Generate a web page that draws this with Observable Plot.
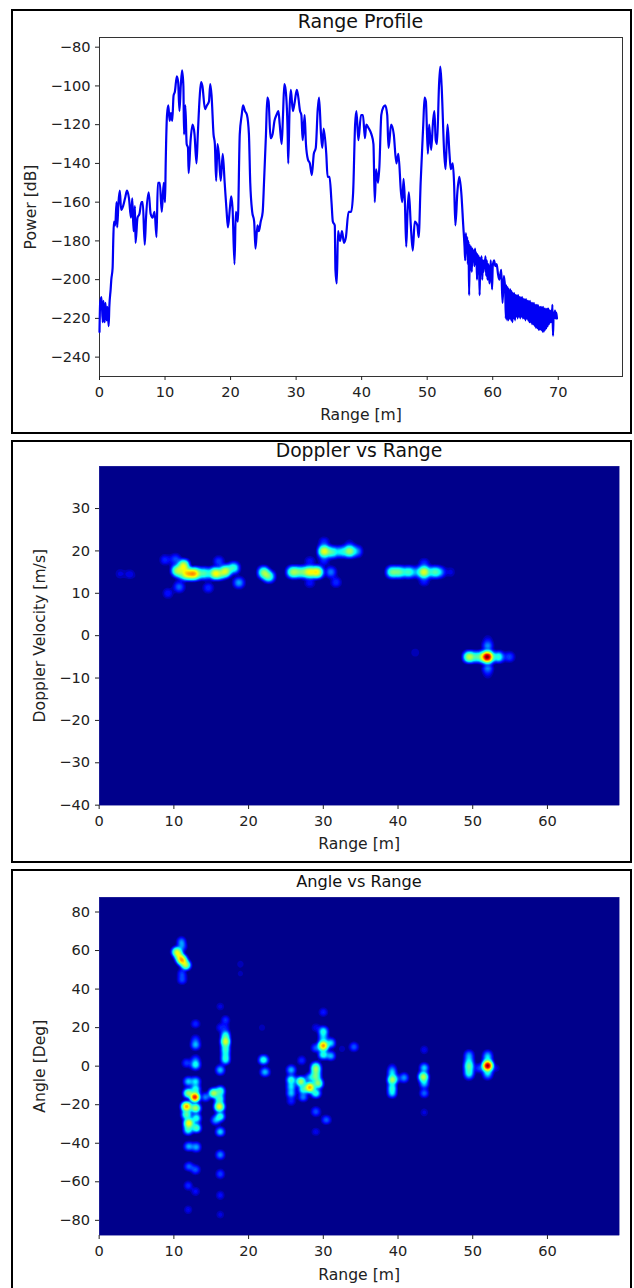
<!DOCTYPE html>
<html><head><meta charset="utf-8">
<script src="https://cdn.jsdelivr.net/npm/d3@7"></script>
<script src="https://cdn.jsdelivr.net/npm/@observablehq/plot@0.6"></script>
<style>
html,body{margin:0;padding:0;background:#fff;width:634px;height:1288px;overflow:hidden}
.panel{position:absolute;left:11px;width:617px;border:2.5px solid #000;box-sizing:content-box}
.chart{position:absolute;left:0}
.title{position:absolute;left:99px;width:523px;text-align:center;font-family:"DejaVu Sans",sans-serif;color:#111}
svg{display:block}
</style></head><body>
<div class="panel" style="top:9px;height:421px"></div>
<div class="panel" style="top:440px;height:419px"></div>
<div class="panel" style="top:869px;height:425px"></div>
<div class="title" style="top:10px;font-size:19px">Range Profile</div>
<div class="title" style="top:440px;width:520px;font-size:18.8px">Doppler vs Range</div>
<div class="title" style="top:872px;width:520px;font-size:16.2px">Angle vs Range</div>
<div class="chart" id="c1" style="top:0"></div>
<div class="chart" id="c2" style="top:440px"></div>
<div class="chart" id="c3" style="top:869px"></div>
<script>
const profileRange=[0,0.1,0.3,0.5,0.6,0.8,0.9,1.1,1.2,1.4,1.5,1.7,1.8,2.0,2.1,2.2,2.4,2.6,2.7,2.9,3.1,3.3,3.6,3.9,4.2,4.5,4.8,5.0,5.2,5.4,5.5,5.8,6.1,6.4,6.6,6.9,7.1,7.5,7.8,8.1,8.4,8.7,8.9,9.2,9.5,9.8,10.0,10.1,10.3,10.5,10.7,10.9,11.1,11.3,11.5,11.8,12.0,12.2,12.4,12.6,12.8,12.9,13.1,13.3,13.5,13.6,13.9,14.2,14.5,14.8,15.0,15.3,15.5,15.7,16.1,16.4,16.7,16.9,17.1,17.4,17.6,17.8,18.0,18.2,18.5,18.8,19.1,19.4,19.6,19.9,20.1,20.3,20.6,20.8,21.1,21.4,21.7,21.9,22.2,22.5,22.8,23.0,23.3,23.6,23.8,24.1,24.3,24.6,24.9,25.1,25.4,25.6,25.8,26.1,26.4,26.7,27.0,27.3,27.5,27.8,28.0,28.2,28.4,28.7,28.8,29.0,29.2,29.5,29.8,30.1,30.3,30.6,30.8,31.0,31.3,31.5,31.8,32.1,32.4,32.7,33.0,33.3,33.5,33.8,34.0,34.2,34.6,34.8,35.1,35.4,35.6,35.9,36.0,36.2,36.4,36.7,37.0,37.3,37.6,38.0,38.4,38.7,39.0,39.2,39.5,39.9,40.2,40.5,40.7,41.1,41.5,41.8,42.0,42.2,42.5,42.7,43.0,43.3,43.6,43.9,44.1,44.5,44.9,45.3,45.6,46.0,46.2,46.4,46.6,46.8,47.0,47.2,47.5,47.8,48.1,48.5,48.7,49.0,49.4,49.6,49.8,50.1,50.3,50.6,50.9,51.1,51.3,51.5,51.8,52.0,52.2,52.6,52.8,53.1,53.4,53.6,53.9,54.1,54.3,54.6,54.9,55.2,55.5,55.7,55.8,55.9,56.0,56.1,56.2,56.3,56.4,56.5,56.6,56.7,56.8,56.9,57.0,57.1,57.2,57.3,57.4,57.5,57.6,57.7,57.8,57.9,58.0,58.1,58.2,58.3,58.4,58.5,58.6,58.7,58.8,58.9,59.0,59.1,59.2,59.3,59.4,59.5,59.7,59.9,60.0,60.2,60.4,60.6,60.8,61.0,61.3,61.5,61.7,61.9,62.0,62.1,62.2,62.3,62.4,62.5,62.6,62.7,62.8,62.9,63.0,63.1,63.2,63.3,63.4,63.5,63.6,63.7,63.8,63.9,64.0,64.1,64.2,64.3,64.4,64.5,64.6,64.7,64.8,64.9,65.0,65.1,65.2,65.3,65.4,65.5,65.6,65.7,65.8,65.9,66.0,66.1,66.2,66.3,66.4,66.5,66.6,66.7,66.8,66.9,67.0,67.1,67.2,67.3,67.4,67.5,67.6,67.7,67.8,67.9,68.0,68.1,68.2,68.3,68.4,68.5,68.6,68.7,68.8,68.9,69.0,69.1,69.2,69.3,69.4,69.5,69.6,69.7,69.8];
const profilePower=[-227,-212,-209,-222,-211,-222,-212,-221,-214,-224,-214,-205,-200,-194,-180,-170,-172,-160,-173,-160,-154,-164,-162,-158,-154,-158,-168,-158,-175,-162,-181,-168,-166,-160,-160,-182,-168,-155,-166,-168,-165,-178,-150,-150,-165,-150,-160,-140,-115,-110,-118,-114,-118,-105,-103,-95,-98,-113,-100,-92,-100,-125,-110,-130,-132,-145,-128,-120,-125,-140,-125,-105,-98,-100,-112,-110,-108,-99,-105,-125,-130,-149,-130,-135,-149,-135,-150,-165,-173,-163,-157,-163,-192,-165,-170,-125,-115,-110,-113,-115,-125,-150,-165,-170,-184,-172,-175,-170,-165,-150,-125,-106,-108,-127,-125,-118,-115,-113,-120,-130,-115,-99,-102,-123,-140,-112,-102,-113,-108,-102,-105,-113,-115,-128,-115,-130,-138,-140,-146,-135,-132,-112,-106,-125,-132,-122,-135,-147,-147,-160,-170,-172,-195,-202,-175,-180,-175,-181,-178,-165,-165,-155,-120,-113,-128,-115,-115,-127,-120,-122,-125,-130,-160,-143,-150,-142,-115,-111,-110,-115,-132,-120,-125,-140,-135,-155,-160,-148,-160,-183,-165,-155,-172,-185,-170,-172,-178,-150,-120,-106,-108,-135,-120,-133,-118,-113,-128,-130,-100,-90,-100,-135,-143,-120,-135,-143,-140,-150,-172,-155,-147,-155,-172,-183,-190,-176,-186,-178,-192,-180,-208,-182,-195,-183,-196,-184,-190,-185,-193,-184,-192,-186,-200,-187,-195,-188,-208,-189,-193,-188,-200,-190,-196,-190,-192,-188,-198,-190,-200,-192,-195,-202,-190,-205,-193,-190,-193,-192,-197,-200,-195,-212,-198,-205,-220,-203,-221,-204,-221,-205,-220,-205,-221,-206,-222,-207,-220,-207,-221,-208,-219,-208,-220,-208,-219,-209,-220,-209,-219,-209,-220,-210,-220,-210,-221,-210,-220,-211,-221,-211,-222,-211,-222,-212,-223,-212,-223,-212,-224,-213,-225,-213,-225,-213,-226,-214,-226,-214,-226,-214,-227,-214,-227,-215,-226,-215,-225,-215,-224,-215,-223,-216,-222,-216,-222,-213,-229,-217,-220,-216,-220,-217,-220,-216,-220,-216,-219,-215,-220,-216,-220,-216,-219,-214];
const profileXTicks=[0,10,20,30,40,50,60,70];
const profileYTicks=[-80,-100,-120,-140,-160,-180,-200,-220,-240];
const imageXTicks=[0,10,20,30,40,50,60];
const dopplerYTicks=[30,20,10,0,-10,-20,-30,-40];
const angleYTicks=[80,60,40,20,0,-20,-40,-60,-80];
// [range m, doppler m/s, strength]
const dopplerPeaks=[[2.8,14.6,.05],[4.1,14.5,.06],[5.5,13.5,.02],[8.8,17.9,.09],[10.2,18,.14],[9.2,10,.08],[10.7,11.5,.16],[10.4,15.4,.55],[11.3,16.5,.8],[10.9,14.6,.25],[11.7,14.6,.85],[12.6,14.6,1.0],[13.3,14.7,.35],[14.2,14.7,.4],[15.5,14.7,.8],[16.2,14.5,.3],[16.9,15.2,.75],[18,16,.4],[16,17.5,.12],[14.6,11.3,.1],[18.7,12.5,.22],[22,14.9,.55],[22.7,14,.5],[25.9,15,.6],[26.7,15,.35],[27.4,15,.35],[28.2,15,.8],[29.2,15,.85],[28.2,17.5,.08],[28.2,12.5,.08],[31,15,.18],[31.7,12.6,.1],[30.1,19.9,.85],[30.1,22,.1],[30.1,17.8,.1],[31.2,19.7,.45],[32.4,19.8,.3],[33.5,19.9,.65],[34.5,19.9,.2],[33.5,21.5,.06],[39.2,15,.5],[40.2,15,.5],[41.4,15,.42],[42.5,15,.2],[43.5,15,.8],[43.5,17,.1],[43.5,13,.1],[44.8,15,.42],[45.6,15,.22],[47,15,.05],[42.3,-4,.04],[49.5,-5,.65],[50.5,-5,.35],[51.3,-5,.4],[52,-5,1.6],[52,-2.5,.18],[52,-7.5,.18],[52,-1,.05],[52,-9,.05],[53.4,-5,.4],[54.9,-5,.12]];
// [range m, angle deg, strength]
const anglePeaks=[[10.4,59.4,.55],[10.7,57,.45],[11.1,55,.8],[11.6,52.5,.5],[11,64.6,.14],[11.1,62,.12],[11.1,44.8,.1],[11.1,48,.1],[11.7,-20.9,.9],[11.7,-25,.4],[12,-29.5,.75],[12.8,-16,1.1],[12.9,-21.7,.55],[11.9,-14,.45],[11.9,-8,.2],[12.9,-8,.25],[12.9,-12,.3],[12.9,.7,.28],[12.9,3.5,.1],[12.9,11,.2],[12.9,14,.08],[12.9,22,.08],[11.7,1.6,.1],[11.9,-33,.3],[13,-32,.35],[13,-27,.3],[12,-41.6,.18],[13,-42,.18],[12,-52,.12],[12.9,-53.7,.12],[11.9,-62,.08],[12.9,-65,.06],[11.9,-74.5,.05],[16.1,-21,.7],[16.1,-17,.35],[15.3,-14,.5],[16.2,-13,.35],[14.2,-16,.15],[16.2,-2,.2],[16.2,-34,.2],[16.2,-26,.3],[16.2,-46,.15],[16.2,-56,.1],[16.2,-67,.06],[16.2,-77,.04],[16.2,20,.06],[16.2,31,.04],[15.6,-28,.18],[16.9,12.7,.6],[16.9,9,.3],[16.9,16,.3],[16.9,3.3,.25],[16.9,6,.2],[16.9,24,.08],[16.9,20,.06],[18.9,53,.03],[18.9,48,.025],[22,3.3,.3],[22.2,-3,.2],[21.8,20,.03],[25.7,-7,.3],[25.7,-10.5,.22],[25.7,-14,.2],[25.7,-2,.2],[25.7,-18,.08],[27,-8,.55],[27.3,-12,.3],[27.3,-16,.14],[27.1,3,.08],[28.2,-11,.9],[28.2,-6,.18],[29,-5.5,.4],[29.3,-9,.5],[29,-2.5,.35],[29,-.3,.35],[29,-14,.3],[29,-23.6,.12],[30.4,-27.8,.12],[29,-34,.05],[30,10.6,.95],[30,18,.3],[30,14.5,.2],[30,6,.3],[31,12,.22],[31,5.4,.18],[29,9.5,.12],[30,28,.07],[29,20,.05],[34.1,10,.12],[32.5,9,.03],[39.2,-7,.45],[39.2,-3.5,.2],[39.2,-11,.28],[39.2,-14,.2],[39.2,-1,.07],[39.8,-6.5,.1],[40.8,-6,.16],[43.4,-5.5,.6],[43.5,-.8,.2],[43.5,-14,.12],[43.5,-9,.2],[43.5,8.5,.05],[43.5,-24,.04],[49.5,0,.4],[49.5,-3,.25],[49.5,3,.2],[49.5,6,.15],[49.5,-5,.12],[52,.2,1.5],[52,3.5,.2],[52,6,.14],[52,-3,.2],[52,-5,.1],[50.9,-1,.1],[53.1,-1,.04]];

const jetStops=[0,.03,.16,.3,.48,.85,1];
const jetColors=["#00008b","#0000ff","#00ffff","#7dff7d","#ffff00","#ff0000","#7f0000"];
const jet=d3.scaleLinear().domain(jetStops).range(jetColors).interpolate(d3.interpolateRgb);
const fontFamily='"DejaVu Sans",sans-serif', ink="#222";
const axes=(k,xt,yt,xLabel,yLabel,xlo,ylo)=>[
  Plot.axisX(xt,{tickFormat:d=>d,label:null,tickSize:4*k,tickPadding:6*k,strokeWidth:k}),
  Plot.axisY(yt,{label:null,tickSize:4*k,tickPadding:5*k,strokeWidth:k}),
  Plot.text([xLabel],{frameAnchor:"bottom",dy:xlo*k,fontSize:15.6*k,fill:ink,text:d=>d}),
  Plot.text([yLabel],{frameAnchor:"left",textAnchor:"middle",rotate:-90,dx:-ylo*k,fontSize:15.6*k,fill:ink,text:d=>d})];

const fig1=Plot.plot({width:634,height:433,marginLeft:99,marginRight:12,marginTop:37,marginBottom:57,
  style:{background:"transparent",fontSize:"14.6px",fontFamily,color:ink,overflow:"visible"},
  x:{domain:[0,79.8]},y:{domain:[-250,-75]},
  marks:[Plot.frame({stroke:"#333"}),...axes(1,profileXTicks,profileYTicks,"Range [m]","Power [dB]",43,69),
    Plot.line(profileRange.map((r,i)=>({r,p:profilePower[i]})),{x:"r",y:"p",stroke:"#0000f5",strokeWidth:2.2,curve:"monotone-x"})]});
document.getElementById("c1").append(fig1);

const K=3;
function heat(peaks,h,mb,mt,yd,yt,label,bw,xlo){
  const svg=Plot.plot({width:634*K,height:h*K,marginLeft:99*K,marginRight:15*K,marginTop:mt*K,marginBottom:mb*K,
    style:{background:"transparent",fontSize:(14.6*K)+"px",fontFamily,color:ink,overflow:"visible"},
    color:{type:"linear",interpolate:jet,legend:false},
    x:{domain:[0,69.6]},y:{domain:yd},
    marks:[Plot.frame({fill:"#00008b",stroke:"#00008b"}),
      ...axes(K,imageXTicks,yt,"Range [m]",label,xlo,59),
      Plot.density(peaks,{x:d=>d[0],y:d=>d[1],weight:d=>d[2],bandwidth:bw*K,thresholds:90,fill:"density",clip:true})]});
  svg.style.width="634px";svg.style.height=h+"px";svg.style.maxWidth="none";
  return svg;
}
document.getElementById("c2").append(heat(dopplerPeaks,422,57,26,[-40,40],dopplerYTicks,"Doppler Velocity [m/s]",2.6,44));
document.getElementById("c3").append(heat(anglePeaks,419,53,28,[-87.7,87.7],angleYTicks,"Angle [Deg]",2.0,45));
</script></body></html>
